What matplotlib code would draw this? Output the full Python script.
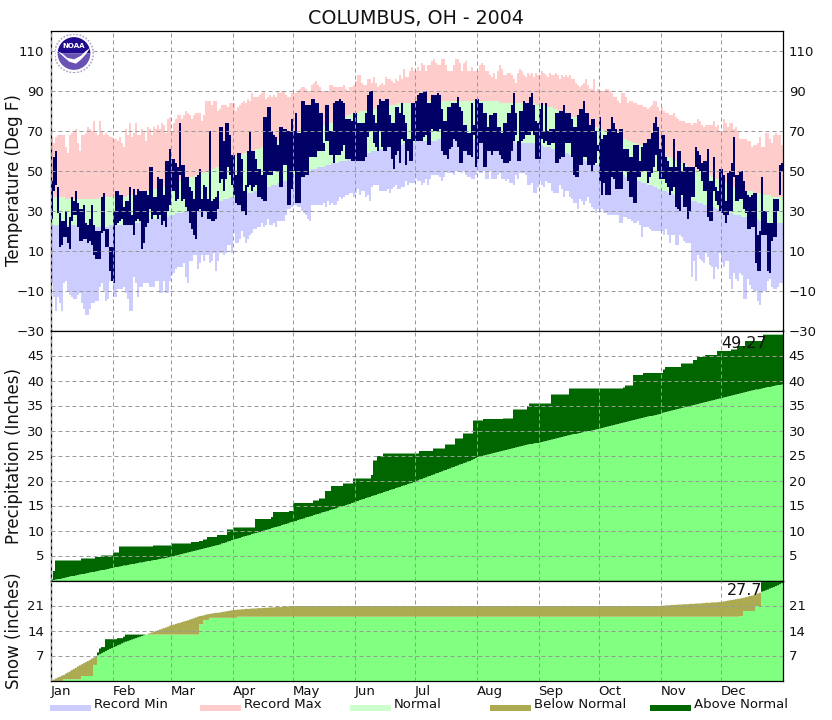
import numpy as np
import matplotlib
matplotlib.use("Agg")
import matplotlib.pyplot as plt
from matplotlib.patches import Circle, Wedge, Polygon, Rectangle

MONTHS = ["Jan","Feb","Mar","Apr","May","Jun","Jul","Aug","Sep","Oct","Nov","Dec"]
MONTH_STARTS = [0,31,60,91,121,152,182,213,244,274,305,335]

RECORD_MAX = [
67,64,67,68,68,68,68,62,59,68,69,70,71,64,60,68,68,69,72,71,70,75,69,68,75,70,68,69,68,67,67,
66,66,65,67,64,62,71,68,74,67,69,74,68,68,71,70,65,72,71,68,72,71,73,71,74,73,69,76,77,
70,74,76,78,78,76,78,80,79,78,76,78,79,79,79,75,78,85,85,85,83,85,85,80,81,83,83,83,82,84,84,
84,80,82,83,84,85,84,86,85,89,87,87,87,88,89,90,86,87,88,87,88,87,90,89,90,90,88,87,87,89,
89,89,90,91,92,92,91,90,90,93,94,95,93,92,90,90,90,90,93,93,92,92,92,92,92,93,91,90,92,92,93,
95,98,98,94,93,93,96,96,94,97,94,92,93,94,93,97,96,96,95,94,96,95,98,96,101,97,97,100,102,100,
100,102,100,104,103,100,103,103,105,106,104,103,103,106,106,103,100,100,100,103,106,106,104,100,104,105,100,100,102,100,100,
100,103,104,103,100,100,98,97,99,96,100,103,101,98,98,99,99,98,96,94,99,101,100,98,97,99,98,99,97,99,98,
98,100,99,98,97,99,98,98,99,98,96,98,97,98,97,98,96,96,94,93,92,93,94,96,93,91,91,96,90,91,
90,90,90,91,91,90,89,87,87,85,84,89,89,87,84,85,85,84,84,83,83,83,82,82,81,82,83,85,85,82,80,
82,80,79,79,78,78,79,77,76,75,75,75,74,74,74,73,74,74,76,75,73,72,73,73,73,73,75,72,73,70,
70,76,74,72,74,74,71,72,70,66,66,66,66,65,65,62,63,63,64,67,62,62,69,69,66,64,68,69,68,68,63]

RECORD_MIN = [
-6,-13,-20,-13,-16,-20,-6,-5,-10,-12,-13,-14,-14,-12,-11,-16,-19,-22,-22,-19,-16,-16,-15,-15,-8,-6,-10,-15,-14,-5,-4,
-13,-13,-9,-9,-9,-8,-11,-14,-20,-20,-3,-6,-13,-8,-8,-6,-6,-6,-8,-8,-8,-5,-5,-11,-11,-5,-11,-11,-5,
-2,-1,1,2,2,2,4,-3,-6,5,5,8,8,1,4,8,5,8,8,4,5,9,0,5,9,9,8,9,13,13,9,
19,14,14,16,20,17,14,16,18,19,21,21,22,22,24,22,23,26,23,23,24,22,25,25,25,25,28,31,31,32,
33,33,32,32,30,29,28,26,25,33,33,33,33,33,33,34,32,35,33,34,33,33,35,37,36,37,38,38,39,39,37,
39,41,38,40,40,37,38,35,42,43,43,43,40,40,40,40,41,39,41,42,43,41,41,42,42,45,43,44,44,44,
46,45,45,43,44,46,43,46,48,48,48,48,47,45,47,50,49,49,49,48,50,50,50,49,50,48,47,47,46,46,48,
50,49,49,50,46,46,50,46,46,46,48,49,46,46,45,46,44,44,43,48,46,49,49,49,48,43,43,44,39,39,42,
45,43,42,45,44,44,40,39,39,39,43,41,37,40,40,37,36,34,34,31,36,35,33,35,37,34,32,31,29,31,
30,31,29,29,28,28,28,28,28,28,24,24,27,27,26,26,25,24,24,25,23,17,22,22,22,21,20,20,20,20,20,
20,18,21,18,14,18,18,13,13,18,17,15,14,14,14,-3,5,-5,8,6,5,4,9,7,3,2,-4,2,1,9,
4,2,5,5,-4,-9,-1,-4,-5,-1,-2,-14,-14,-4,-7,-9,-10,-10,-15,-17,-11,-10,-10,-5,-4,-8,-9,-9,-8,-6,-6]

NORMAL_HIGH = [
37,37,37,37,37,37,37,36,36,36,36,36,36,36,36,36,36,36,36,36,36,36,36,36,37,37,37,37,37,37,37,
37,37,37,37,37,37,37,38,38,38,38,38,39,39,39,39,39,40,40,40,41,41,41,42,42,42,42,43,43,
44,44,44,45,45,45,46,46,46,47,47,47,48,48,49,49,49,50,50,50,51,51,52,52,53,53,53,54,54,55,55,
57,57,58,58,58,59,59,59,60,60,60,61,61,61,62,62,62,63,63,64,64,65,65,65,66,66,67,67,68,68,
69,69,69,70,70,70,70,71,71,71,71,72,72,72,72,73,73,73,74,74,74,75,75,76,76,77,77,78,78,79,79,
79,79,80,80,80,80,81,81,81,81,81,82,82,82,82,83,83,83,83,83,83,84,84,84,84,84,84,84,84,84,
84,84,84,85,85,85,85,85,85,85,85,85,85,85,85,85,85,85,85,85,85,85,85,85,85,85,85,85,85,85,85,
85,85,85,85,85,85,85,85,85,85,85,84,84,84,84,84,84,84,84,84,84,84,84,84,84,84,84,84,84,83,83,
83,83,83,83,82,82,82,81,81,80,80,80,79,79,78,78,77,77,77,76,76,75,75,74,74,73,73,73,72,72,
71,71,70,70,69,69,68,68,68,67,67,66,66,66,65,65,64,64,64,63,63,63,62,62,61,61,60,60,60,59,59,
58,58,57,57,57,56,56,55,55,54,54,53,53,52,52,52,51,51,50,50,50,49,49,48,48,47,47,46,46,45,
45,44,44,44,43,43,42,42,42,41,41,41,40,40,40,40,39,39,39,39,38,38,38,38,38,37,37,37,37,37,37]

NORMAL_LOW = [
23,23,23,23,23,23,23,23,23,23,23,23,23,22,22,22,22,22,22,22,22,22,22,22,22,22,22,22,22,23,23,
23,23,23,23,23,23,23,24,24,24,24,24,24,25,25,25,25,25,26,26,26,26,26,27,27,27,27,27,28,
28,28,29,29,29,29,30,30,30,30,30,31,31,31,32,32,32,33,33,33,34,34,34,35,35,35,36,36,36,37,37,
37,37,37,38,38,38,39,39,39,39,40,40,40,41,41,41,42,42,42,43,43,43,44,44,44,45,45,46,47,47,
48,48,48,49,49,49,50,50,50,51,51,51,52,52,52,52,53,53,53,54,54,54,54,55,55,55,55,56,56,56,57,
57,57,58,58,58,59,59,59,60,60,60,60,61,61,61,62,62,62,62,63,63,63,63,63,64,64,64,64,64,64,
65,65,65,65,65,65,65,65,65,65,65,66,66,66,66,66,66,66,66,66,66,66,66,66,66,66,66,66,66,66,66,
66,66,65,65,65,65,65,65,65,65,65,65,65,65,65,65,65,65,65,64,64,64,64,64,64,64,64,64,64,63,63,
63,63,62,62,62,62,61,61,61,60,60,60,59,59,59,58,58,58,57,57,57,56,56,55,55,55,54,54,53,53,
53,52,52,52,51,51,50,50,50,49,49,48,48,47,47,47,46,46,46,45,45,44,44,44,43,43,43,42,42,41,41,
40,40,40,39,39,39,38,38,38,37,37,37,36,36,36,35,35,35,34,34,34,33,33,33,32,32,32,31,31,30,
30,30,29,29,29,29,28,28,28,28,27,27,27,27,26,26,26,26,26,25,25,25,25,24,24,24,24,24,24,24,24]

OBS_HIGH = [
45,57,60,42,29,25,25,30,22,27,
37,35,40,34,31,31,33,24,23,26,
33,23,20,20,20,37,39,21,21,12,
12,30,40,40,38,38,32,35,35,42,
28,41,38,41,40,40,40,40,38,52,
52,37,37,47,46,46,38,55,55,61,
56,56,54,52,74,53,53,47,47,42,
40,36,47,48,51,36,43,42,36,70,
35,36,37,40,72,72,65,74,74,68,
58,58,48,59,59,56,40,43,60,70,
60,60,56,51,51,48,77,77,82,82,
70,68,67,63,72,72,71,71,70,70,
76,70,79,69,69,85,85,83,83,83,
86,86,84,84,79,79,64,83,83,70,
70,84,85,85,86,85,84,76,76,76,
75,79,79,74,74,74,74,79,88,90,
90,78,74,83,86,85,85,86,86,78,
74,74,82,82,79,84,78,74,66,66,
84,84,85,88,89,89,90,90,84,84,
88,88,88,89,88,81,75,75,82,82,
84,84,84,87,82,80,73,73,69,69,
84,73,86,86,84,84,79,79,72,78,
78,79,79,72,72,69,74,74,79,79,
83,89,79,65,80,80,85,84,84,87,
89,83,75,74,81,84,70,84,70,71,
71,71,79,79,80,80,83,79,79,79,
76,72,72,78,81,81,85,79,79,73,
76,76,70,63,77,66,68,68,71,71,
77,74,71,69,71,71,61,61,61,57,
57,63,63,63,55,62,64,64,66,66,
69,74,77,72,61,68,68,57,55,52,
52,66,52,60,60,50,54,52,52,52,
52,52,62,60,58,54,55,55,61,45,
45,57,42,40,51,51,48,35,49,50,
54,67,48,48,50,50,45,40,38,37,
38,39,39,18,20,47,30,30,24,24,
24,36,36,36,53,54]

OBS_LOW = [
26,40,43,29,12,13,17,17,14,11,
25,28,28,22,15,15,16,16,14,15,
13,8,6,6,6,19,20,12,12,0,
-5,-6,23,24,25,26,23,23,23,23,
23,18,25,26,25,11,14,22,24,31,
26,28,28,26,28,23,25,22,30,33,
40,40,35,36,48,35,36,32,30,24,
21,18,16,30,31,27,30,30,26,26,
25,25,26,31,44,46,40,46,52,48,
43,38,34,33,33,30,30,28,42,43,
40,42,43,37,37,36,35,35,48,48,
48,50,50,50,42,42,53,53,33,33,
41,50,34,34,34,47,47,48,48,57,
57,57,57,60,60,60,60,65,65,58,
58,54,58,58,58,60,63,56,56,56,
55,55,55,55,55,55,55,57,67,70,
70,64,62,60,70,62,60,60,62,62,
56,51,58,60,54,66,65,53,60,55,
55,65,65,65,65,65,67,68,63,63,
71,70,70,70,71,60,58,58,56,61,
62,66,65,62,54,54,60,60,58,58,
57,68,52,56,64,64,52,52,60,60,
58,60,60,60,58,56,54,54,54,55,
60,65,68,55,55,65,66,68,68,68,
70,68,56,56,56,66,64,65,63,63,
64,64,54,54,56,57,57,64,64,64,
57,48,47,47,53,53,57,57,53,53,
50,53,54,60,45,38,44,38,38,38,
47,46,41,41,41,41,50,50,45,37,
37,34,34,47,47,50,50,50,44,47,
49,52,58,50,46,46,46,44,42,38,
40,42,32,31,30,38,32,32,26,30,
37,37,52,51,50,45,40,40,27,25,
25,40,35,33,30,29,28,24,28,30,
30,47,35,35,36,36,31,29,21,21,
22,22,4,0,0,18,18,18,0,-1,
15,17,17,30,38,50]

PRECIP_NORMAL = [
0.1,0.2,0.3,0.4,0.4,0.5,0.6,0.7,0.8,0.9,1.0,1.0,1.1,1.2,1.3,1.4,1.4,1.5,1.6,1.7,1.8,1.8,1.9,2.0,2.1,2.2,2.2,2.3,2.4,2.5,2.6,
2.7,2.8,2.8,2.9,3.0,3.1,3.1,3.2,3.3,3.4,3.4,3.5,3.6,3.7,3.7,3.8,3.9,4.0,4.0,4.1,4.2,4.2,4.3,4.4,4.5,4.5,4.6,4.7,4.8,
4.9,5.0,5.1,5.2,5.3,5.4,5.5,5.6,5.7,5.8,5.9,6.0,6.1,6.2,6.3,6.4,6.5,6.6,6.7,6.8,6.9,7.0,7.1,7.2,7.3,7.5,7.6,7.7,7.9,8.0,8.2,
8.3,8.4,8.5,8.6,8.8,8.9,9.0,9.1,9.2,9.4,9.5,9.6,9.7,9.8,10.0,10.1,10.2,10.3,10.4,10.6,10.7,10.8,10.9,11.0,11.2,11.3,11.4,11.5,11.7,11.8,
11.9,12.0,12.2,12.3,12.4,12.5,12.7,12.8,12.9,13.0,13.2,13.3,13.4,13.5,13.7,13.8,13.9,14.0,14.2,14.3,14.4,14.5,14.7,14.8,14.9,15.0,15.2,15.3,15.4,15.6,15.7,
15.9,16.0,16.2,16.3,16.4,16.6,16.7,16.8,17.0,17.1,17.2,17.4,17.5,17.6,17.8,17.9,18.0,18.2,18.3,18.4,18.6,18.7,18.8,19.0,19.1,19.2,19.4,19.5,19.6,19.8,
20.0,20.1,20.3,20.4,20.6,20.7,20.9,21.0,21.2,21.3,21.5,21.6,21.8,21.9,22.1,22.2,22.4,22.5,22.7,22.8,23.0,23.1,23.3,23.4,23.6,23.7,23.9,24.0,24.2,24.4,24.6,
24.8,24.9,25.0,25.1,25.2,25.3,25.4,25.5,25.6,25.7,25.8,25.9,26.0,26.1,26.2,26.3,26.4,26.5,26.6,26.7,26.8,26.9,27.0,27.1,27.2,27.3,27.4,27.4,27.5,27.6,27.6,
27.7,27.8,27.9,28.0,28.1,28.2,28.3,28.4,28.5,28.6,28.7,28.8,28.9,29.0,29.1,29.2,29.3,29.4,29.4,29.5,29.6,29.7,29.8,29.9,30.0,30.0,30.1,30.2,30.3,30.4,
30.5,30.6,30.7,30.8,30.9,31.0,31.1,31.2,31.3,31.4,31.5,31.6,31.7,31.8,31.9,32.0,32.1,32.2,32.3,32.4,32.5,32.6,32.7,32.8,32.9,33.0,33.0,33.1,33.2,33.3,33.4,
33.6,33.7,33.8,33.9,34.0,34.1,34.2,34.3,34.4,34.5,34.6,34.7,34.8,34.9,35.0,35.1,35.2,35.3,35.4,35.5,35.6,35.7,35.8,35.9,36.0,36.1,36.2,36.3,36.4,36.5,
36.6,36.7,36.8,36.9,37.0,37.1,37.2,37.3,37.4,37.5,37.6,37.7,37.8,37.9,38.0,38.1,38.2,38.3,38.3,38.4,38.5,38.6,38.7,38.8,38.8,38.9,39.0,39.1,39.2,39.2,39.3]

# cumulative observed precipitation: day of each rise and the running total
PRECIP_DAYS = [0,1,2,15,22,25,31,34,51,60,70,74,76,78,83,88,91,102,110,111,119,121,131,134,137,140,146,151,160,161,163,166,184,191,197,202,206,211,216,226,231,238,239,250,259,286,287,291,296,306,307,315,321,323,327,333,340,343,347,356]
PRECIP_TOTALS = [0.3,2.0,4.1,4.5,4.8,5.1,5.7,6.9,7.1,7.5,7.8,8.0,8.3,8.8,9.2,10.3,10.7,12.4,12.8,13.8,14.0,15.6,16.1,16.5,18.0,19.0,19.5,20.5,21.2,24.1,25.0,25.5,26.0,26.5,27.3,28.5,29.5,32.1,32.4,32.5,34.3,35.0,35.5,37.3,38.5,38.7,39.1,41.2,41.6,42.3,42.8,43.5,44.2,44.8,45.2,46.0,46.3,47.0,48.0,49.27]

SNOW_NORMAL = [
0.1,0.4,0.7,1.0,1.2,1.5,1.7,2.1,2.4,2.7,3.1,3.4,3.7,4.1,4.4,4.7,5.0,5.3,5.6,5.9,6.3,6.6,6.9,7.2,7.5,7.8,8.1,8.4,8.7,9.0,9.2,
9.5,9.7,10.0,10.2,10.5,10.8,11.0,11.2,11.4,11.6,11.8,12.0,12.2,12.4,12.6,12.8,13.0,13.2,13.4,13.6,13.8,14.0,14.2,14.4,14.6,14.8,15.0,15.2,15.5,
15.7,15.8,16.0,16.2,16.3,16.5,16.7,16.8,17.0,17.2,17.4,17.6,17.8,18.0,18.2,18.3,18.4,18.6,18.7,18.8,18.9,19.0,19.1,19.1,19.2,19.3,19.4,19.5,19.6,19.7,19.8,
19.9,19.9,20.0,20.0,20.1,20.1,20.2,20.2,20.2,20.3,20.3,20.3,20.4,20.4,20.4,20.5,20.5,20.5,20.6,20.6,20.6,20.7,20.7,20.7,20.8,20.8,20.8,20.9,20.9,20.9
] + [21.0] * 184 + [
21.1,21.1,21.2,21.2,21.2,21.3,21.3,21.3,21.4,21.4,21.4,21.5,21.5,21.5,21.6,21.6,21.6,21.7,21.7,21.7,21.8,21.8,21.9,21.9,21.9,22.0,22.0,22.0,22.1,22.1,
22.2,22.3,22.4,22.5,22.6,22.7,22.8,22.9,23.0,23.1,23.2,23.3,23.5,23.6,23.8,23.9,24.1,24.3,24.5,24.7,25.0,25.2,25.4,25.6,25.9,26.1,26.3,26.6,26.8,27.1,27.4]

SNOW_DAYS = [0,6,15,21,23,24,25,27,33,36,37,74,76,79,93,344,346,352,355]
SNOW_TOTALS = [0.0,0.5,1.4,4.5,8.0,9.1,9.5,11.7,12.0,12.4,13.0,15.9,17.1,17.7,18.0,18.2,19.6,21.0,27.7]

for name, s in [("rmax",RECORD_MAX),("rmin",RECORD_MIN),("nh",NORMAL_HIGH),("nl",NORMAL_LOW),
                ("oh",OBS_HIGH),("ol",OBS_LOW),("pn",PRECIP_NORMAL),("sn",SNOW_NORMAL)]:
    assert len(s) == 366, (name, len(s))

C_RMIN, C_RMAX, C_NORM = "#CCCCFF", "#FFCCCC", "#CCFFCC"
C_BELOW, C_ABOVE, C_BASE, C_OBS = "#ADAB51", "#006600", "#80FF80", "#000066"
GRID = "#999999"

W, H = 832, 720
fig = plt.figure(figsize=(W/100, H/100), dpi=100, facecolor="white")
plt.rcParams["font.family"] = "DejaVu Sans"
L, R = 50.5, 782.5

def panel(top, bottom):
    return fig.add_axes([L/W, 1-bottom/H, (R-L)/W, (bottom-top)/H])

ax_t = panel(30.5, 330.5)
ax_p = panel(330.5, 580.5)
ax_s = panel(580.5, 680.5)

days = np.arange(367)

def steps(a):
    a = np.asarray(a, float)
    return np.append(a, a[-1])

def sfill(ax, lo, hi, color):
    ax.fill_between(days, steps(lo), steps(hi), step="post", color=color, lw=0, zorder=1, antialiased=False)

# temperature panel
sfill(ax_t, RECORD_MIN, NORMAL_LOW, C_RMIN)
sfill(ax_t, NORMAL_LOW, NORMAL_HIGH, C_NORM)
sfill(ax_t, NORMAL_HIGH, RECORD_MAX, C_RMAX)
ax_t.bar(days[:-1]+0.5, np.array(OBS_HIGH)-np.array(OBS_LOW), bottom=OBS_LOW, width=1.0,
         color=C_OBS, lw=0, zorder=1.5)

def held(day_list, totals):
    idx = np.searchsorted(day_list, np.arange(366), side="right") - 1
    return np.asarray(totals)[np.clip(idx, 0, None)]

def cumul_panel(ax, normal, obs):
    normal = np.asarray(normal, float)
    sfill(ax, np.zeros(366), np.minimum(normal, obs), C_BASE)
    sfill(ax, normal, np.maximum(normal, obs), C_ABOVE)
    sfill(ax, np.minimum(normal, obs), normal, C_BELOW)

cumul_panel(ax_p, PRECIP_NORMAL, held(PRECIP_DAYS, PRECIP_TOTALS))
cumul_panel(ax_s, SNOW_NORMAL, held(SNOW_DAYS, SNOW_TOTALS))

ax_p.text(358, 47.4, "49.27", ha="right", va="center", fontsize=11.5, color="#111111", zorder=5)
ax_s.text(356, 25.2, "27.7", ha="right", va="center", fontsize=11.5, color="#111111", zorder=5)

CONFIG = [
    (ax_t, (-30, 120), [110, 90, 70, 50, 30, 10, -10, -30], "Temperature (Deg F)"),
    (ax_p, (0, 50), [5, 10, 15, 20, 25, 30, 35, 40, 45], "Precipitation (Inches)"),
    (ax_s, (0, 28), [7, 14, 21], "Snow (inches)"),
]
for ax, ylim, yticks, ylab in CONFIG:
    ax.set_xlim(0, 366)
    ax.set_ylim(*ylim)
    ax.set_yticks(yticks)
    ax.set_xticks(MONTH_STARTS)
    ax.set_xticklabels([])
    ax.set_axisbelow(False)
    ax.grid(True, color=GRID, lw=0.72, linestyle=(0, (4, 3)))
    ax.tick_params(axis="both", length=0, labelsize=9.5, colors="#111111")
    ax.tick_params(axis="y", which="both", left=True, right=True, labelleft=True, labelright=True, pad=4.5)
    ax.set_ylabel(ylab, fontsize=12, color="#111111")
    ax.yaxis.set_label_coords((23.5-L)/(R-L), 0.5)
    for sp in ax.spines.values():
        sp.set_linewidth(0.9)
        sp.set_color("black")

ax_s.set_xticklabels(MONTHS, ha="left")
ax_s.tick_params(axis="x", pad=3)

fig.text(415.5/W, 1-18.5/H, "COLUMBUS, OH - 2004", ha="center", va="center", fontsize=13.7, color="#111111")

# legend strip
LEGEND_LABELS = ["Record Min", "Record Max", "Normal", "Below Normal", "Above Normal"]
LEGEND_COLORS = [C_RMIN, C_RMAX, C_NORM, C_BELOW, C_ABOVE]
LEGEND_X = [50, 200, 350, 490, 650]
for x, col, lab in zip(LEGEND_X, LEGEND_COLORS, LEGEND_LABELS):
    fig.add_artist(Rectangle((x/W, 1-711/H), 41/W, 6.5/H, transform=fig.transFigure, color=col, lw=0))
    fig.text((x+43.5)/W, 1-705/H, lab, ha="left", va="center", fontsize=9.5, color="#111111")

# NOAA emblem
cx, cy, r = 74, 53.5, 19.5
logo = fig.add_axes([(cx-r)/W, 1-(cy+r)/H, 2*r/W, 2*r/H])
logo.set_xlim(-1, 1); logo.set_ylim(-1, 1); logo.axis("off")
logo.add_patch(Circle((0, 0), 0.99, fc="white", ec="#AAA6C8", lw=1.2, ls=(0, (1, 1))))
logo.add_patch(Wedge((0, 0), 0.84, 0, 180, fc="#220A8E", lw=0))
logo.add_patch(Wedge((0, 0), 0.84, 180, 360, fc="#6A52B4", lw=0))
logo.add_patch(Polygon([(-0.84, 0.12), (-0.6, 0.0), (-0.35, -0.22), (0, -0.3), (0.35, -0.12), (0.6, 0.12),
                        (0.84, 0.3), (0.6, -0.05), (0.35, -0.32), (0.1, -0.52), (-0.25, -0.42), (-0.55, -0.15)],
                       closed=True, fc="white", lw=0))
logo.text(0, 0.38, "NOAA", color="white", fontsize=5, fontweight="bold", ha="center", va="center")

fig.savefig("out.png", dpi=100, facecolor="white")
